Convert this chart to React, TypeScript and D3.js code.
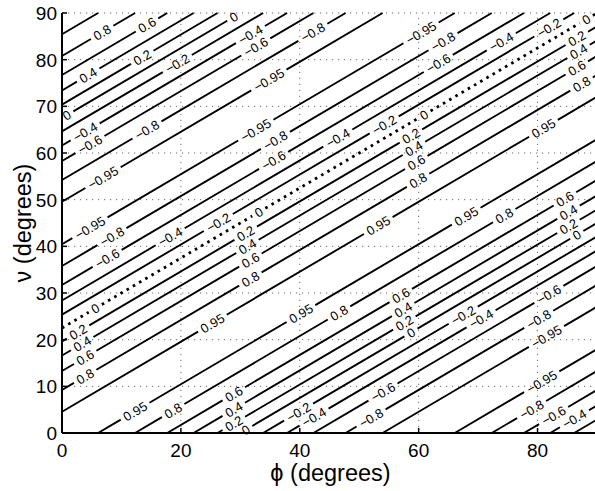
import React from "react";
import * as d3 from "d3";

// axis ticks
const phiTicks = [0, 20, 40, 60, 80];
const nuTicks = [0, 10, 20, 30, 40, 50, 60, 70, 80, 90];

// contour lines: straight lines nu = intercept + slope * phi
const contourSlope = 0.75;
const contourLevels = [
  0.95, 0.8, 0.6, 0.4, 0.2, 0, -0.2, -0.4, -0.6, -0.8, -0.95,
  -0.95, -0.8, -0.6, -0.4, -0.2, 0, 0.2, 0.4, 0.6, 0.8, 0.95,
  0.95, 0.8, 0.6, 0.4, 0.2, 0, -0.2, -0.4, -0.6, -0.8, -0.95,
  -0.95, -0.8, -0.6, -0.4, -0.2,
];
const contourIntercepts = [
  85.45, 80.78, 76.72, 73.4, 70.38, 67.5, 64.62, 61.6, 58.28, 54.22, 49.55,
  40.45, 35.78, 31.72, 28.4, 25.38, 22.5, 19.62, 16.6, 13.28, 9.22, 4.55,
  -4.55, -9.22, -13.28, -16.6, -19.62, -22.5, -25.38, -28.4, -31.72, -35.78, -40.45,
  -49.55, -54.22, -58.28, -61.6, -64.62,
];
// the zero line drawn dotted
const dottedIntercept = 22.5;

// inline contour labels (level, phi, nu)
const labelLevels = [
  0.8, 0.6, 0.4, 0.2, -0.2, 0, -0.4, -0.6, -0.8, 0,
  -0.4, -0.6, -0.8, -0.95, -0.95, -0.8, -0.4, -0.2, -0.6, -0.95,
  -0.8, -0.6, -0.4, -0.2, 0, 0.2, 0.4, 0.6, 0.8, 0.95,
  0, 0.2, 0.4, 0.6, 0.8, -0.95, -0.95, -0.8, -0.6, -0.4,
  0, -0.2, 0, 0.2, 0.4, 0.6, 0.8, 0.95, 0.95, 0.8,
  0.6, 0.4, 0.2, 0, -0.6, 0.6, 0.4, 0.2, 0.4, 0.6,
  0.8, 0.95, 0.8, 0.95, 0.95, 0.8, 0.6, 0.4, 0.2, 0,
  -0.2, -0.4, -0.6, -0.8, 0.2, 0, -0.2, -0.4, -0.8, -0.95,
  -0.95, -0.8, -0.6, -0.4,
];
const labelPhi = [
  6.75, 14.3, 4.4, 13.5, 19.4, 0.8, 3.9, 4.7, 14.3, 28.9,
  31.7, 32.6, 42.2, 34.8, 32.6, 35.9, 46.4, 54.2, 35.6, 60.4,
  64.1, 63.3, 73.9, 81.9, 88.2, 86.6, 86.9, 86.6, 87.4, 81.0,
  60.9, 58.7, 59.2, 59.6, 59.9, 6.9, 4.7, 8.4, 7.6, 18.2,
  5.6, 26.3, 33.1, 30.9, 31.2, 31.7, 31.7, 53.2, 68.0, 74.4,
  84.6, 85.2, 85.2, 86.6, 81.9, 57.0, 57.4, 2.7, 3.4, 3.9,
  3.9, 12.3, 18.7, 25.3, 40.2, 46.6, 28.9, 28.9, 28.9, 30.9,
  39.8, 42.4, 54.0, 52.0, 57.6, 58.7, 67.5, 70.5, 80.2, 81.5,
  80.7, 79.0, 82.7, 86.2,
];
const labelNu = [
  86.5, 87.8, 77.1, 80.3, 79.3, 68.4, 65.2, 62.6, 65.2, 89.5,
  85.7, 83.3, 86.5, 75.9, 65.2, 63.2, 63.2, 66.2, 58.3, 86.8,
  84.0, 79.7, 84.0, 86.8, 89.3, 83.5, 81.4, 79.1, 75.0, 65.2,
  68.6, 64.3, 61.5, 59.0, 53.6, 55.1, 44.0, 41.9, 37.6, 42.3,
  26.9, 45.5, 47.6, 42.7, 39.7, 37.4, 33.1, 44.4, 46.2, 46.6,
  49.8, 47.2, 44.2, 42.3, 29.9, 29.9, 26.9, 21.6, 19.4, 16.2,
  12.0, 4.9, 5.3, 23.7, 25.6, 25.9, 8.1, 5.6, 2.4, 1.1,
  4.3, 3.8, 9.6, 3.8, 23.7, 21.6, 25.6, 24.6, 23.7, 20.3,
  10.9, 5.3, 3.8, 3.4,
];

const FONT = "'Liberation Sans', Arial, Helvetica, sans-serif";
const labelFont = 13;

function fmt(v: number): string {
  if (v === 0) return "0";
  return (v < 0 ? "\u2212" : "") + String(Math.abs(v));
}
function textWidth(s: string, size: number): number {
  let w = 0;
  for (const ch of s) {
    if (ch === ".") w += 0.278;
    else if (ch === "\u2212") w += 0.584;
    else w += 0.556;
  }
  return w * size;
}

export default function App() {
  const W = 595;
  const H = 491;
  const x = d3.scaleLinear().domain([0, 90]).range([62, 597]);
  const y = d3.scaleLinear().domain([0, 90]).range([433, 13]);
  const pxPerPhi = Math.hypot(x(1) - x(0), y(contourSlope) - y(0));
  const angle = (Math.atan2(y(contourSlope) - y(0), x(1) - x(0)) * 180) / Math.PI;

  // assign each label to nearest line of its level
  const labels = labelLevels.map((lv, i) => {
    let best = -1;
    let bd = Infinity;
    contourLevels.forEach((l, j) => {
      if (l !== lv) return;
      const d = Math.abs(labelNu[i] - (contourIntercepts[j] + contourSlope * labelPhi[i]));
      if (d < bd) {
        bd = d;
        best = j;
      }
    });
    const phi = labelPhi[i];
    const nu = contourIntercepts[best] + contourSlope * phi;
    return { line: best, phi, nu, text: fmt(lv) };
  });

  const lineGen = d3
    .line<[number, number]>()
    .x((d) => x(d[0]))
    .y((d) => y(d[1]));

  const segments: { d: string; dotted: boolean; key: string }[] = [];
  contourIntercepts.forEach((b, j) => {
    const a0 = Math.max(0, (0 - b) / contourSlope);
    const a1 = Math.min(90, (90 - b) / contourSlope);
    if (a1 <= a0) return;
    const gaps = labels
      .filter((l) => l.line === j)
      .map((l) => {
        const hg = (textWidth(l.text, labelFont) / 2 + 4) / pxPerPhi;
        return [l.phi - hg, l.phi + hg];
      })
      .sort((p, q) => p[0] - q[0]);
    let cur = a0;
    const parts: [number, number][] = [];
    for (const g of gaps) {
      if (g[0] > cur) parts.push([cur, Math.min(g[0], a1)]);
      cur = Math.max(cur, g[1]);
      if (cur >= a1) break;
    }
    if (cur < a1) parts.push([cur, a1]);
    parts.forEach((p, k) => {
      if (p[1] - p[0] <= 0) return;
      segments.push({
        key: `${j}-${k}`,
        dotted: b === dottedIntercept,
        d: lineGen([
          [p[0], b + contourSlope * p[0]],
          [p[1], b + contourSlope * p[1]],
        ]) as string,
      });
    });
  });

  const gridColor = "#6a6a6a";

  return (
    <svg
      width={W}
      height={H}
      viewBox={`0 0 ${W} ${H}`}
      style={{ position: "absolute", left: 0, top: 0, display: "block", background: "#fff" }}
      fontFamily={FONT}
    >
      <rect x={0} y={0} width={W} height={H} fill="#fff" />
      {/* grid */}
      <g stroke={gridColor} strokeWidth={1} strokeDasharray="1.2 4.8" fill="none">
        {phiTicks
          .filter((t) => t > 0)
          .map((t) => (
            <line key={`gx${t}`} x1={x(t)} x2={x(t)} y1={y(0)} y2={y(90)} />
          ))}
        {nuTicks
          .filter((t) => t > 0)
          .map((t) => (
            <line key={`gy${t}`} x1={x(0)} x2={x(90)} y1={y(t)} y2={y(t)} />
          ))}
      </g>
      {/* contour lines */}
      <g fill="none" stroke="#000">
        {segments.map((s) =>
          s.dotted ? (
            <path key={s.key} d={s.d} strokeWidth={2.8} strokeDasharray="2.6 4.6" />
          ) : (
            <path key={s.key} d={s.d} strokeWidth={1.9} />
          )
        )}
      </g>
      {/* labels */}
      <g fontSize={labelFont} fill="#000" textAnchor="middle">
        {labels.map((l, i) => (
          <text
            key={`l${i}`}
            transform={`translate(${x(l.phi)},${y(l.nu)}) rotate(${angle})`}
            dy="0.36em"
          >
            {l.text}
          </text>
        ))}
      </g>
      {/* axes */}
      <g stroke="#000" strokeWidth={2} fill="none">
        <line x1={x(0)} x2={x(90)} y1={y(0)} y2={y(0)} />
        <line x1={x(0)} x2={x(0)} y1={y(0)} y2={y(90)} />
        {phiTicks.map((t) => (
          <line key={`tx${t}`} x1={x(t)} x2={x(t)} y1={y(0)} y2={y(0) - 5} strokeWidth={1.5} />
        ))}
        {nuTicks.map((t) => (
          <line key={`ty${t}`} x1={x(0)} x2={x(0) + 5} y1={y(t)} y2={y(t)} strokeWidth={1.5} />
        ))}
      </g>
      <g fontSize={19} fill="#000">
        {phiTicks.map((t) => (
          <text key={`lx${t}`} x={x(t)} y={457} textAnchor="middle">
            {t}
          </text>
        ))}
        {nuTicks.map((t) => (
          <text key={`ly${t}`} x={57} y={y(t)} dy="0.36em" textAnchor="end">
            {t}
          </text>
        ))}
      </g>
      <text x={(x(0) + 595) / 2 + 2} y={481} fontSize={23.5} textAnchor="middle" fill="#000">
        {"\u03d5 (degrees)"}
      </text>
      <text
        transform={`translate(31,${(y(0) + y(90)) / 2}) rotate(-90)`}
        fontSize={23.5}
        textAnchor="middle"
        fill="#000"
      >
        {"\u03bd (degrees)"}
      </text>
    </svg>
  );
}
